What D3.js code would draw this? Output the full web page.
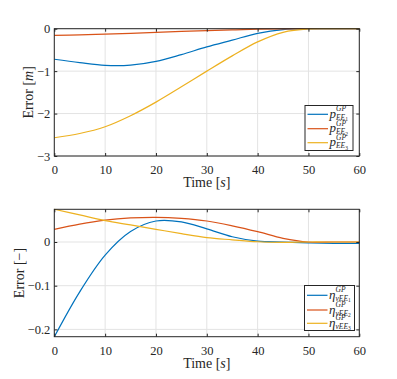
<!DOCTYPE html>
<html>
<head>
<meta charset="utf-8">
<script src="https://cdn.jsdelivr.net/npm/d3@7"></script>
<style>
  body { margin: 0; background: #fff; }
  svg { display: block; }
</style>
</head>
<body>
<script>
// time samples (s)
const time = [0, 5, 10, 15, 20, 25, 30, 35, 40, 45, 50, 55, 60];

// top plot: position error [m]
const pEE1 = [-0.72, -0.80, -0.865, -0.86, -0.77, -0.61, -0.43, -0.27, -0.11, -0.02, 0, 0, 0];
const pEE2 = [-0.156, -0.145, -0.13, -0.11, -0.085, -0.065, -0.047, -0.028, -0.012, -0.004, 0, 0, 0];
const pEE3 = [-2.57, -2.47, -2.31, -2.05, -1.73, -1.37, -1.0, -0.64, -0.31, -0.085, -0.005, 0, 0];

// bottom plot: orientation error [-]
const eta1 = [-0.217, -0.114, -0.030, 0.024, 0.048, 0.046, 0.030, 0.012, 0.002, 0.0, -0.002, -0.003, -0.003];
const eta2 = [0.029, 0.041, 0.050, 0.055, 0.0565, 0.054, 0.048, 0.037, 0.0236, 0.0084, 0.0, 0, 0];
const eta3 = [0.075, 0.062, 0.049, 0.039, 0.029, 0.019, 0.010, 0.005, 0.0005, -0.0008, 0, 0, 0];

const xTicks = [0, 10, 20, 30, 40, 50, 60];
const yTicksTop = [0, -1, -2, -3];
const yTicksBot = [0, -0.1, -0.2];

const colors = ["#0072BD", "#D95319", "#EDB120"];
const FONT = '"Liberation Serif", "Times New Roman", serif';

const W = 397, H = 379;
const svg = d3.select("body").append("svg").attr("width", W).attr("height", H);

function drawPanel(opt) {
  const x = d3.scaleLinear().domain([0, 60]).range([54.3, 359.3]);
  const y = d3.scaleLinear().domain(opt.yDomain).range([opt.bottom, opt.top]);
  const g = svg.append("g");
  const [x0, x1] = x.range();
  const [y0, y1] = y.range();

  // grid
  g.selectAll(".gx").data(xTicks).enter().append("line")
    .attr("x1", d => x(d)).attr("x2", d => x(d)).attr("y1", y1).attr("y2", y0)
    .attr("stroke", "#e3e3e3").attr("stroke-width", 1);
  g.selectAll(".gy").data(opt.yTicks).enter().append("line")
    .attr("x1", x0).attr("x2", x1).attr("y1", d => y(d)).attr("y2", d => y(d))
    .attr("stroke", "#e3e3e3").attr("stroke-width", 1);

  // series
  const line = d3.line().x((d, i) => x(time[i])).y(d => y(d)).curve(d3.curveCatmullRom.alpha(0.5));
  opt.series.forEach((s, i) => {
    g.append("path").datum(s).attr("d", line)
      .attr("fill", "none").attr("stroke", colors[i]).attr("stroke-width", 1.2);
  });

  // axes (ticks inward, box)
  const ax = g.append("g").attr("transform", `translate(0,${y0})`)
    .call(d3.axisBottom(x).tickValues(xTicks).tickSizeInner(-3).tickSizeOuter(0).tickPadding(9));
  const axT = g.append("g").attr("transform", `translate(0,${y1})`)
    .call(d3.axisTop(x).tickValues(xTicks).tickSizeInner(-3).tickSizeOuter(0).tickFormat(""));
  const ay = g.append("g").attr("transform", `translate(${x0},0)`)
    .call(d3.axisLeft(y).tickValues(opt.yTicks).tickSizeInner(-3).tickSizeOuter(0).tickPadding(4).tickFormat(opt.fmt));
  const ayR = g.append("g").attr("transform", `translate(${x1},0)`)
    .call(d3.axisRight(y).tickValues(opt.yTicks).tickSizeInner(-3).tickSizeOuter(0).tickFormat(""));
  [ax, axT, ay, ayR].forEach(a => {
    a.select(".domain").remove();
    a.selectAll("line").attr("stroke", "#262626");
    a.selectAll("text").style("font-size", "12.5px");
  });
  g.append("rect").attr("x", x0).attr("y", y1).attr("width", x1 - x0).attr("height", y0 - y1)
    .attr("fill", "none").attr("stroke", "#262626").attr("stroke-width", 1);

  // labels
  const xl = g.append("text").attr("x", (x0 + x1) / 2).attr("y", opt.xLabelY)
    .attr("text-anchor", "middle").style("font-size", "14px");
  xl.append("tspan").text("Time [");
  xl.append("tspan").attr("font-style", "italic").text("s");
  xl.append("tspan").text("]");
  const yl = g.append("text").attr("transform", `translate(${opt.yLabelX},${(y0 + y1) / 2}) rotate(-90)`)
    .attr("text-anchor", "middle").style("font-size", "14px");
  yl.append("tspan").text("Error [");
  yl.append("tspan").attr("font-style", opt.unitItalic ? "italic" : "normal").text(opt.unit);
  yl.append("tspan").text("]");

  // legend
  const L = opt.legend;
  const lg = g.append("g");
  lg.append("rect").attr("x", L.x).attr("y", L.y).attr("width", L.w).attr("height", L.h)
    .attr("fill", "#fff").attr("stroke", "#262626").attr("stroke-width", 1);
  L.rows.forEach((ry, i) => {
    lg.append("line").attr("x1", L.x + 2.5).attr("x2", L.x + 23).attr("y1", ry).attr("y2", ry)
      .attr("stroke", colors[i]).attr("stroke-width", 1.2);
    const bx = L.x + 24.5;
    lg.append("text").attr("x", bx).attr("y", ry + 3.5).style("font-size", "13px")
      .attr("font-style", "italic").text(opt.sym);
    const sx = bx + opt.symW;
    lg.append("text").attr("x", sx).attr("y", ry - 3).style("font-size", "7.5px")
      .attr("font-style", "italic").text("GP");
    const sub = lg.append("text").attr("x", sx).attr("y", ry + 5.5).style("font-size", "7.5px")
      .attr("font-style", "italic");
    sub.append("tspan").text(opt.subText);
    sub.append("tspan").style("font-size", "5.5px").attr("font-style", "normal").attr("dy", 1.5).text(i + 1);
  });

  g.selectAll("text").style("font-family", FONT).attr("fill", "#262626");
}

drawPanel({
  yDomain: [-3, 0], top: 28.7, bottom: 156,
  series: [pEE1, pEE2, pEE3], yTicks: yTicksTop, fmt: d3.format("d"),
  xLabelY: 187, yLabelX: 33, unit: "m", unitItalic: true,
  sym: "p", symW: 6.5, subText: "EE",
  legend: { x: 305, y: 105.5, w: 48, h: 45, rows: [114.3, 128.7, 142.7] }
});

drawPanel({
  yDomain: [-0.2167, 0.0748], top: 209.3, bottom: 336.7,
  series: [eta1, eta2, eta3], yTicks: yTicksBot, fmt: d => d === 0 ? "0" : d3.format(".1f")(d),
  xLabelY: 368, yLabelX: 24, unit: "\u2212", unitItalic: false,
  sym: "\u03B7", symW: 6.5, subText: "vEE",
  legend: { x: 304.5, y: 285.5, w: 50, h: 45, rows: [295.3, 310, 323.3] }
});
</script>
</body>
</html>
